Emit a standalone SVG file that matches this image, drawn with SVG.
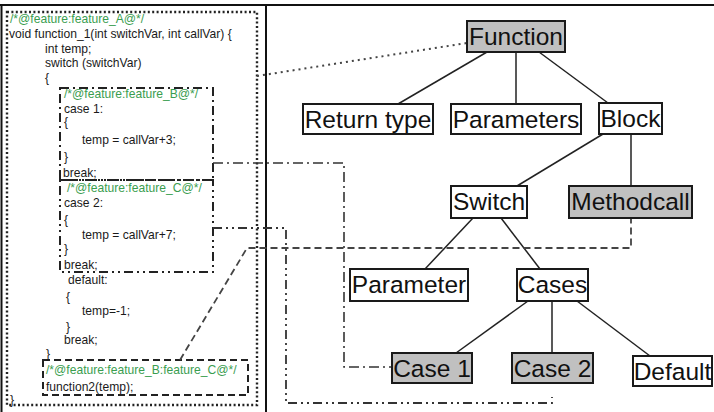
<svg xmlns="http://www.w3.org/2000/svg" width="714" height="412" viewBox="0 0 714 412">
<style>
.code{font-family:"Liberation Sans",Arial,sans-serif;font-size:12.1px;fill:#1a1a1a}
.cm{fill:#3a9d4f}
.nt{font-family:"Liberation Sans",Arial,sans-serif;font-size:24.5px;fill:#111;text-anchor:middle}
.box{fill:#fff;stroke:#1a1a1a;stroke-width:2}
.gray{fill:#c0c0c0}
.edge{stroke:#222;stroke-width:1.5;fill:none}
.frame{stroke:#111;stroke-width:2;fill:none}
.dot{stroke:#222;stroke-width:2.4;stroke-dasharray:2 2.4;fill:none}
.dd{stroke:#222;stroke-width:2;stroke-dasharray:9 4 2 4;fill:none}
.ddd{stroke:#222;stroke-width:2;stroke-dasharray:9 4 2 4 2 4;fill:none}
.dash{stroke:#222;stroke-width:2;stroke-dasharray:7 4;fill:none}
.c-dot{stroke:#444;stroke-width:2;stroke-dasharray:2 4;fill:none}
.c-dd{stroke:#333;stroke-width:1.6;stroke-dasharray:10 4 2 4;fill:none}
.c-ddd{stroke:#333;stroke-width:1.8;stroke-dasharray:9 4 2 4 2 4;fill:none}
.c-dash{stroke:#444;stroke-width:1.8;stroke-dasharray:7 4;fill:none}
</style>
<rect width="714" height="412" fill="#fff"/>
<g id="frame">
<line class="frame" x1="0" y1="5" x2="714" y2="5"/>
<line class="frame" x1="1.5" y1="5" x2="1.5" y2="412"/>
<line class="frame" x1="266" y1="5" x2="266" y2="412"/>
</g>
<g id="code">
<rect class="dot" x="7" y="12" width="250" height="393"/>
<rect class="dd" x="60" y="88" width="153" height="92"/>
<rect class="ddd" x="60" y="180" width="153" height="92"/>
<rect class="dash" x="43" y="360" width="205" height="35"/>
<text class="code cm" x="10" y="23">/*@feature:feature_A@*/</text>
<text class="code" x="9" y="38">void function_1(int switchVar, int callVar) {</text>
<text class="code" x="45" y="53">int temp;</text>
<text class="code" x="45" y="67">switch (switchVar)</text>
<text class="code" x="45" y="82">{</text>
<text class="code cm" x="64" y="98">/*@feature:feature_B@*/</text>
<text class="code" x="64" y="113">case 1:</text>
<text class="code" x="64" y="126">{</text>
<text class="code" x="82" y="144">temp = callVar+3;</text>
<text class="code" x="64" y="161">}</text>
<text class="code" x="63" y="177">break;</text>
<text class="code cm" x="67" y="192">/*@feature:feature_C@*/</text>
<text class="code" x="64" y="207">case 2:</text>
<text class="code" x="64" y="224">{</text>
<text class="code" x="82" y="239">temp = callVar+7;</text>
<text class="code" x="64" y="253">}</text>
<text class="code" x="64" y="269">break;</text>
<text class="code" x="68" y="284">default:</text>
<text class="code" x="66" y="301">{</text>
<text class="code" x="82" y="315">temp=-1;</text>
<text class="code" x="66" y="331">}</text>
<text class="code" x="64" y="344">break;</text>
<text class="code" x="46" y="358">}</text>
<text class="code cm" x="46" y="374">/*@feature:feature_B:feature_C@*/</text>
<text class="code" x="46" y="391">function2(temp);</text>
<text class="code" x="10" y="404">}</text>
</g>
<g id="edges">
<line class="edge" x1="487" y1="52" x2="398" y2="104"/>
<line class="edge" x1="516" y1="52" x2="516" y2="104"/>
<line class="edge" x1="539" y1="52" x2="608" y2="103"/>
<line class="edge" x1="603" y1="134" x2="517" y2="186"/>
<line class="edge" x1="631" y1="134" x2="631" y2="186"/>
<line class="edge" x1="473" y1="218" x2="425" y2="269"/>
<line class="edge" x1="501" y1="218" x2="540" y2="269"/>
<line class="edge" x1="528" y1="301" x2="456" y2="353"/>
<line class="edge" x1="552" y1="301" x2="552" y2="353"/>
<line class="edge" x1="577" y1="301" x2="650" y2="356"/>
</g>
<g id="connectors">
<line class="c-dot" x1="257" y1="76" x2="467" y2="43"/>
<polyline class="c-dd" points="213,163 344,163 344,367 392,367"/>
<polyline class="c-ddd" points="213,228 286,228 286,403 552,403 552,397"/>
<polyline class="c-dash" points="180,360 247,248 631,248 631,218"/>
</g>
<g id="n-function"><rect class="box gray" x="467" y="21" width="98" height="31"/><text class="nt" x="516" y="45">Function</text></g>
<g id="n-returntype"><rect class="box" x="303" y="104" width="130" height="30"/><text class="nt" x="368" y="128">Return type</text></g>
<g id="n-parameters"><rect class="box" x="451" y="104" width="130" height="30"/><text class="nt" x="516" y="128">Parameters</text></g>
<g id="n-block"><rect class="box" x="599" y="103" width="63" height="31"/><text class="nt" x="630.5" y="127">Block</text></g>
<g id="n-switch"><rect class="box" x="451" y="186" width="76" height="32"/><text class="nt" x="489" y="210">Switch</text></g>
<g id="n-methodcall"><rect class="box gray" x="569" y="186" width="123" height="32"/><text class="nt" x="630.5" y="210">Methodcall</text></g>
<g id="n-parameter"><rect class="box" x="350" y="269" width="118" height="32"/><text class="nt" x="409" y="293">Parameter</text></g>
<g id="n-cases"><rect class="box" x="517" y="269" width="71" height="32"/><text class="nt" x="552.5" y="293">Cases</text></g>
<g id="n-case1"><rect class="box gray" x="392" y="353" width="80" height="30"/><text class="nt" x="432" y="377">Case 1</text></g>
<g id="n-case2"><rect class="box gray" x="512" y="353" width="81" height="30"/><text class="nt" x="552.5" y="377">Case 2</text></g>
<g id="n-default"><rect class="box" x="633" y="356" width="79" height="30"/><text class="nt" x="672.5" y="380">Default</text></g>
</svg>
